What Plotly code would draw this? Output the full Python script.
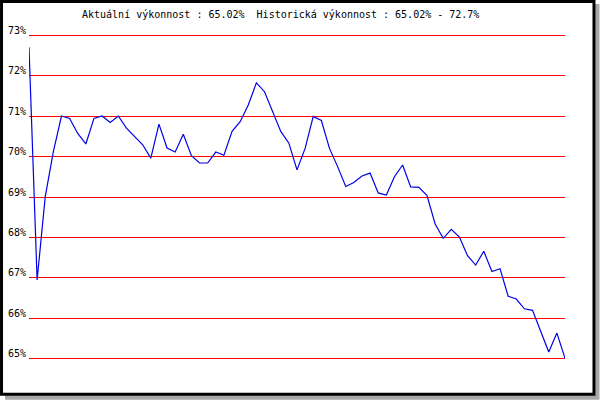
import plotly.graph_objects as go

# performance values (%), one per period
performance = [
    72.70, 66.95, 69.01, 70.12, 71.00, 70.94, 70.57, 70.31, 70.94, 71.00,
    70.84, 71.00, 70.70, 70.49, 70.29, 69.96, 70.80, 70.21, 70.11, 70.55,
    70.02, 69.84, 69.84, 70.11, 70.03, 70.62, 70.86, 71.27, 71.82, 71.60,
    71.11, 70.62, 70.33, 69.67, 70.20, 70.99, 70.89, 70.20, 69.75, 69.26,
    69.36, 69.52, 69.59, 69.10, 69.05, 69.50, 69.79, 69.25, 69.24, 69.04,
    68.34, 67.98, 68.20, 68.01, 67.55, 67.32, 67.66, 67.16, 67.23, 66.55,
    66.48, 66.24, 66.20, 65.68, 65.17, 65.64, 65.02,
]
periods = list(range(len(performance)))

tick_values = [65, 66, 67, 68, 69, 70, 71, 72, 73]
tick_labels = ["65%", "66%", "67%", "68%", "69%", "70%", "71%", "72%", "73%"]

title_text = "Aktuální výkonnost : 65.02%  Historická výkonnost : 65.02% - 72.7%"

W, H = 600, 400
L, R, T, B = 29, 34.5, 33.0, 38.7
PW, PH = W - L - R, H - T - B


def px_x(p):
    return (p - L) / PW


def px_y(p):
    return (H - p - B) / PH


fig = go.Figure()
fig.add_trace(go.Scatter(
    x=periods, y=performance, mode="lines",
    line=dict(color="#0000E6", width=1.2),
    hoverinfo="skip", showlegend=False, cliponaxis=False,
))

frame = [
    (5, 4, 600, 400, "#A8A8A8"),
    (0, 0, 596, 396, "#000000"),
    (3, 3, 593, 393, "#FFFFFF"),
]
shapes = []
for x0, y0, x1, y1, c in frame:
    shapes.append(dict(
        type="rect", xref="paper", yref="paper", layer="below",
        x0=px_x(x0), x1=px_x(x1), y0=px_y(y1), y1=px_y(y0),
        fillcolor=c, line=dict(width=0),
    ))

font = dict(family="DejaVu Sans Mono", size=10, color="#000000")

fig.update_layout(
    width=W, height=H,
    margin=dict(l=L, r=R, t=T, b=B, pad=0, autoexpand=False),
    paper_bgcolor="#FFFFFF",
    plot_bgcolor="rgba(0,0,0,0)",
    font=font,
    shapes=shapes,
    title=dict(
        text=title_text, font=font,
        xref="container", yref="container",
        x=82 / W, xanchor="left", y=1 - 14 / H, yanchor="middle",
    ),
    xaxis=dict(
        range=[0, len(performance) - 1], showgrid=False, zeroline=False,
        showticklabels=False, ticks="", showline=False, fixedrange=True,
        automargin=False,
    ),
    yaxis=dict(
        range=[64.95, 73.05], tickmode="array", tickvals=tick_values,
        ticktext=tick_labels, showgrid=True, gridcolor="#FF0000",
        gridwidth=1, zeroline=False, ticks="", showline=False,
        ticklabelshift=-5, ticklabelstandoff=2, tickfont=font,
        fixedrange=True, automargin=False,
    ),
)

fig.write_html(
    "out.html",
    config={"displayModeBar": False, "staticPlot": True},
    post_script="document.body.style.margin='0';document.body.style.overflow='hidden';",
)
